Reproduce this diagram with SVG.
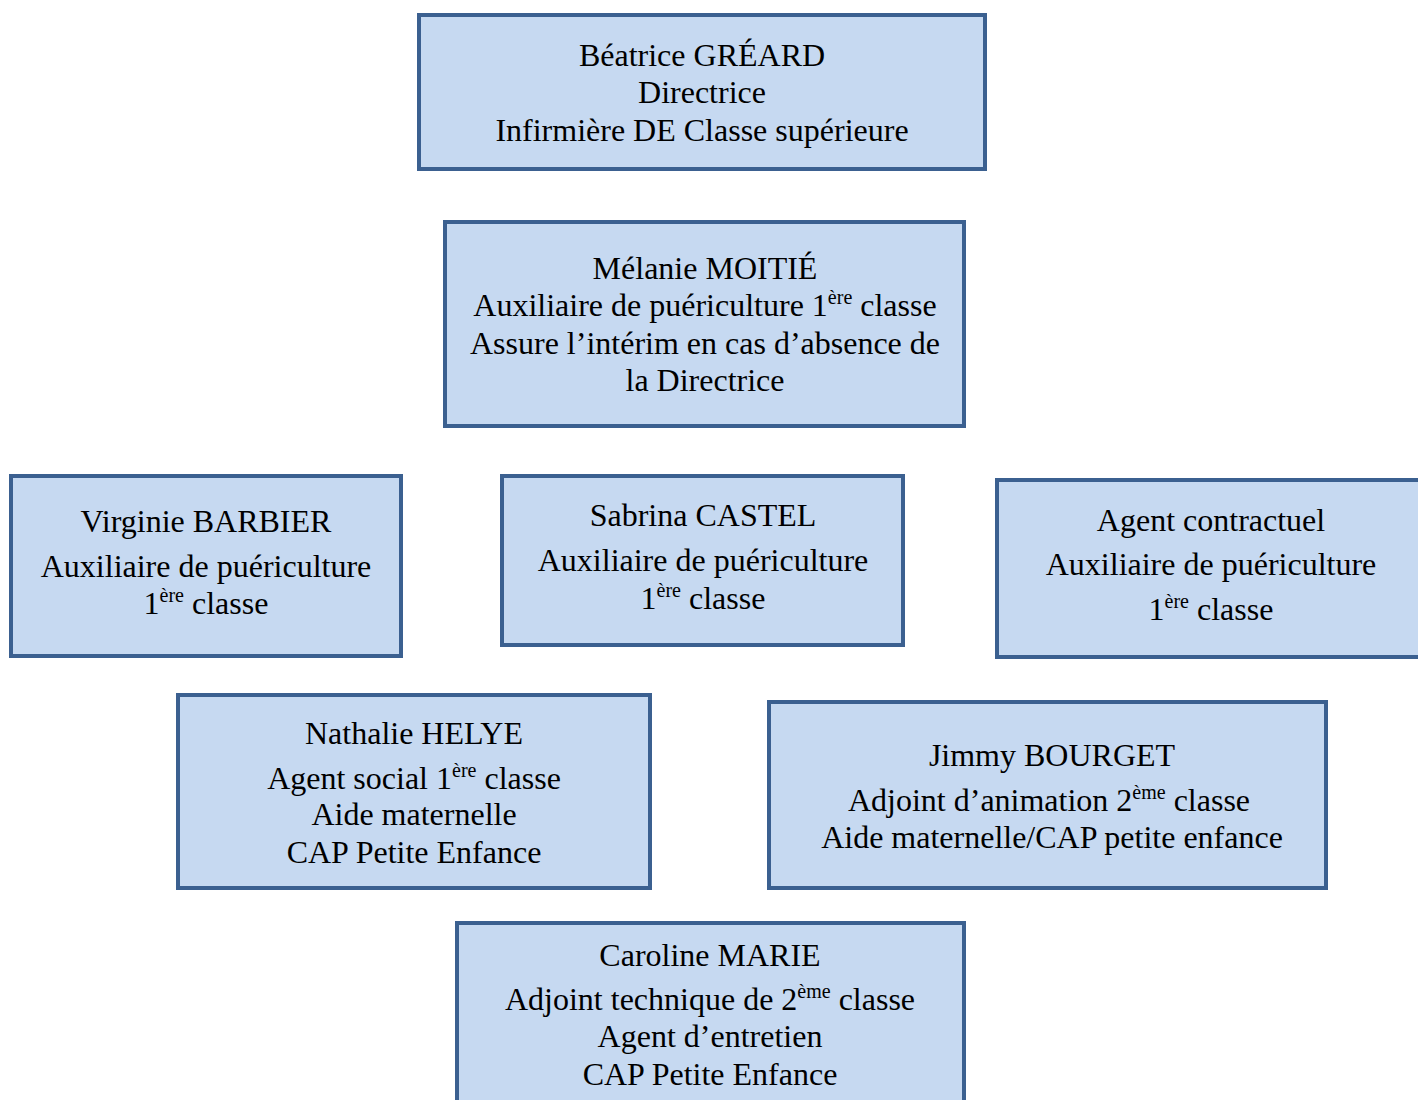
<svg xmlns="http://www.w3.org/2000/svg" width="1418" height="1100" viewBox="0 0 1418 1100">
<style>
.box{fill:#C6D9F1;stroke:#3B6090;stroke-width:4}
text{font-family:"Liberation Serif","Times New Roman",serif;font-size:32px;fill:#000;text-anchor:middle}
.sup{font-size:20px}
</style>
<rect width="1418" height="1100" fill="#FFFFFF"/>
<g id="connectors"></g>
<g id="n1">
<rect class="box" x="419" y="15" width="566" height="154"/>
<text x="702" y="66">Béatrice GRÉARD</text>
<text x="702" y="103">Directrice</text>
<text x="702" y="141">Infirmière DE Classe supérieure</text>
</g>
<g id="n2">
<rect class="box" x="445" y="222" width="519" height="204"/>
<text x="705" y="279">Mélanie MOITIÉ</text>
<text x="705" y="316">Auxiliaire de puériculture 1<tspan class="sup" dy="-12">ère</tspan><tspan dy="12"> classe</tspan></text>
<text x="705" y="354">Assure l’intérim en cas d’absence de</text>
<text x="705" y="391">la Directrice</text>
</g>
<g id="n3">
<rect class="box" x="11" y="476" width="390" height="180"/>
<text x="206" y="532">Virginie BARBIER</text>
<text x="206" y="577">Auxiliaire de puériculture</text>
<text x="206" y="614">1<tspan class="sup" dy="-12">ère</tspan><tspan dy="12"> classe</tspan></text>
</g>
<g id="n4">
<rect class="box" x="502" y="476" width="401" height="169"/>
<text x="703" y="526">Sabrina CASTEL</text>
<text x="703" y="571">Auxiliaire de puériculture</text>
<text x="703" y="609">1<tspan class="sup" dy="-12">ère</tspan><tspan dy="12"> classe</tspan></text>
</g>
<g id="n5">
<rect class="box" x="997" y="480" width="428" height="177"/>
<text x="1211" y="531">Agent contractuel</text>
<text x="1211" y="575">Auxiliaire de puériculture</text>
<text x="1211" y="620">1<tspan class="sup" dy="-12">ère</tspan><tspan dy="12"> classe</tspan></text>
</g>
<g id="n6">
<rect class="box" x="178" y="695" width="472" height="193"/>
<text x="414" y="744">Nathalie HELYE</text>
<text x="414" y="789">Agent social 1<tspan class="sup" dy="-12">ère</tspan><tspan dy="12"> classe</tspan></text>
<text x="414" y="825">Aide maternelle</text>
<text x="414" y="863">CAP Petite Enfance</text>
</g>
<g id="n7">
<rect class="box" x="769" y="702" width="557" height="186"/>
<text x="1052" y="766">Jimmy BOURGET</text>
<text x="1049" y="811">Adjoint d’animation 2<tspan class="sup" dy="-12">ème</tspan><tspan dy="12"> classe</tspan></text>
<text x="1052" y="848">Aide maternelle/CAP petite enfance</text>
</g>
<g id="n8">
<rect class="box" x="457" y="923" width="507" height="190"/>
<text x="710" y="966">Caroline MARIE</text>
<text x="710" y="1010">Adjoint technique de 2<tspan class="sup" dy="-12">ème</tspan><tspan dy="12"> classe</tspan></text>
<text x="710" y="1047">Agent d’entretien</text>
<text x="710" y="1085">CAP Petite Enfance</text>
</g>
</svg>
